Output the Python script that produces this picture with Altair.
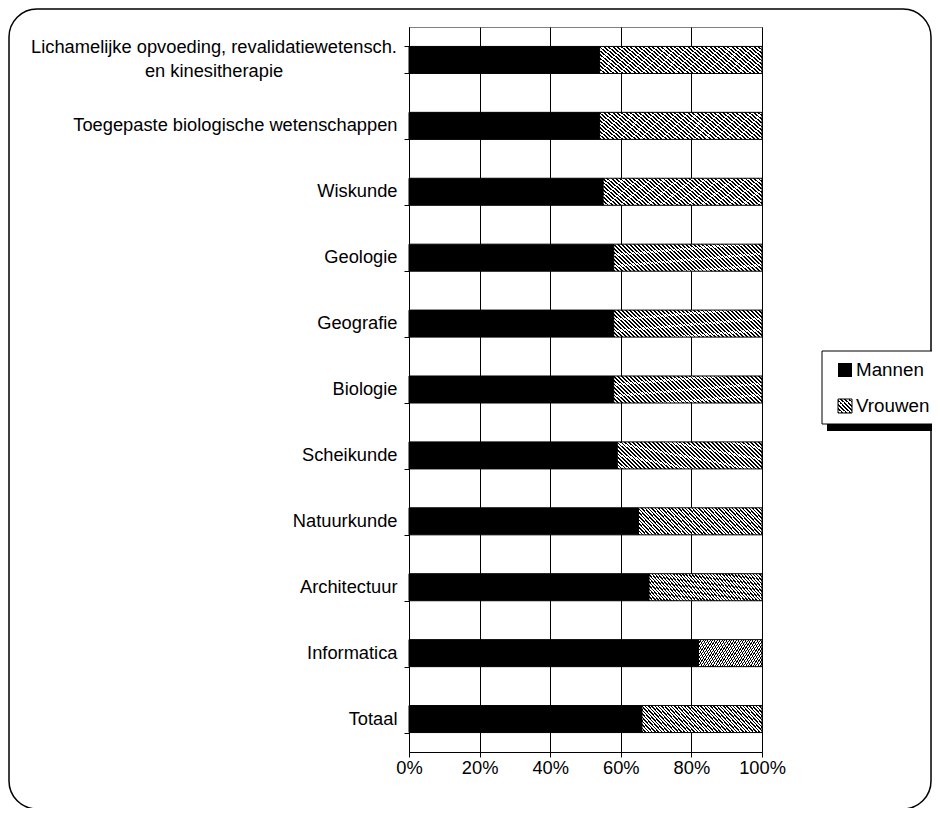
import altair as alt
import pandas as pd

categories = [
    "Lichamelijke opvoeding, revalidatiewetensch.\nen kinesitherapie",
    "Toegepaste biologische wetenschappen",
    "Wiskunde",
    "Geologie",
    "Geografie",
    "Biologie",
    "Scheikunde",
    "Natuurkunde",
    "Architectuur",
    "Informatica",
    "Totaal",
]
mannen = [54, 54, 55, 58, 58, 58, 59, 65, 68, 82, 66]
vrouwen = [46, 46, 45, 42, 42, 42, 41, 35, 32, 18, 34]
series = ["Mannen", "Vrouwen"]
x_ticks = [0, 20, 40, 60, 80, 100]

rows = []
for c, m, v in zip(categories, mannen, vrouwen):
    rows.append({"cat": c, "series": series[0], "start": 0, "end": m})
    rows.append({"cat": c, "series": series[1], "start": m, "end": m + v})
df = pd.DataFrame(rows)
one = pd.DataFrame({"k": [0]})
FONT = "Arial, Liberation Sans, sans-serif"
FS = 18.3


def hatch(n, x2, y2, frac=0.45):
    stops = []
    for i in range(n):
        a = i / n
        b = (i + frac) / n
        c = (i + 1) / n
        stops += [
            {"offset": a, "color": "#000000"},
            {"offset": b, "color": "#000000"},
            {"offset": b, "color": "#ffffff"},
            {"offset": c, "color": "#ffffff"},
        ]
    return {"gradient": "linear", "x1": 0, "y1": 1, "x2": x2, "y2": y2, "stops": stops}


bar_hatch = hatch(44, 1.15, 0.77)
sq_hatch = hatch(7, 1.0, 0.0)

yscale = alt.Scale(paddingInner=0.59, paddingOuter=0.295)
xscale = alt.Scale(domain=[0, 100], nice=False)

xenc = alt.X(
    "start:Q",
    scale=xscale,
    axis=alt.Axis(
        values=x_ticks,
        labelExpr="datum.value + '%'",
        title=None,
        grid=True,
        gridColor="#000000",
        gridWidth=1,
        domainColor="#000000",
        tickColor="#000000",
        tickSize=5,
        labelPadding=2,
        labelFlush=False,
        labelFontSize=FS,
        labelColor="#000000",
        labelFont=FONT,
    ),
)
yaxis = alt.Axis(
    title=None,
    tickBand="extent",
    tickSize=5,
    tickColor="#000000",
    domainColor="#000000",
    labelPadding=7,
    labelLimit=500,
    labelFontSize=FS,
    labelColor="#000000",
    labelFont=FONT,
    labelExpr="indexof(datum.label, '\\n') >= 0 ? '' : datum.label",
)
yenc = alt.Y("cat:N", sort=categories, scale=yscale, axis=yaxis)

frame = alt.Chart(one).mark_rect(
    fillOpacity=0, stroke="#000000", strokeWidth=1.5, cornerRadius=28
).encode(x=alt.value(-400), x2=alt.value(522), y=alt.value(-18), y2=alt.value(782))

bars_m = (
    alt.Chart(df)
    .transform_filter(alt.datum.series == series[0])
    .mark_bar(color="#000000", stroke="#000000", strokeWidth=1)
    .encode(x=xenc, x2="end:Q", y=yenc)
)
bars_v = (
    alt.Chart(df)
    .transform_filter(alt.datum.series == series[1])
    .mark_bar(fill=bar_hatch, stroke="#000000", strokeWidth=1)
    .encode(x=xenc, x2="end:Q", y=yenc)
)

long_label = (
    alt.Chart(pd.DataFrame({"cat": [categories[0]]}))
    .mark_text(
        align="center", baseline="middle", lineBreak="\n", fontSize=FS,
        lineHeight=24, dy=-12, font=FONT, color="#000000",
    )
    .encode(x=alt.value(-195), y=yenc, text="cat:N")
)

shadow = alt.Chart(one).mark_rect(color="#000000").encode(
    x=alt.value(418), x2=alt.value(540), y=alt.value(329), y2=alt.value(404)
)
box = alt.Chart(one).mark_rect(fill="#ffffff", stroke="#000000", strokeWidth=1).encode(
    x=alt.value(413), x2=alt.value(540), y=alt.value(324), y2=alt.value(397)
)
sq_m = alt.Chart(one).mark_rect(color="#000000").encode(
    x=alt.value(429), x2=alt.value(443), y=alt.value(336), y2=alt.value(350)
)
sq_v = alt.Chart(one).mark_rect(fill=sq_hatch, stroke="#000000", strokeWidth=1).encode(
    x=alt.value(429), x2=alt.value(443), y=alt.value(372), y2=alt.value(386)
)
txt_m = alt.Chart(one).mark_text(
    text=series[0], align="left", baseline="middle", fontSize=FS + 0.5, font=FONT, color="#000000"
).encode(x=alt.value(447), y=alt.value(343))
txt_v = alt.Chart(one).mark_text(
    text=series[1], align="left", baseline="middle", fontSize=FS + 0.5, font=FONT, color="#000000"
).encode(x=alt.value(447), y=alt.value(379))

chart = (
    alt.layer(frame, bars_m, bars_v, long_label, shadow, box, sq_m, sq_v, txt_m, txt_v)
    .properties(
        width=353,
        height=725,
        autosize=alt.AutoSizeParams(type="none"),
        padding={"left": 401, "top": 19, "right": 170, "bottom": 56},
        background="#ffffff",
    )
    .configure_view(stroke="#808080", strokeWidth=1)
)

chart.save("out.html", embed_options={"renderer": "svg", "actions": False})
